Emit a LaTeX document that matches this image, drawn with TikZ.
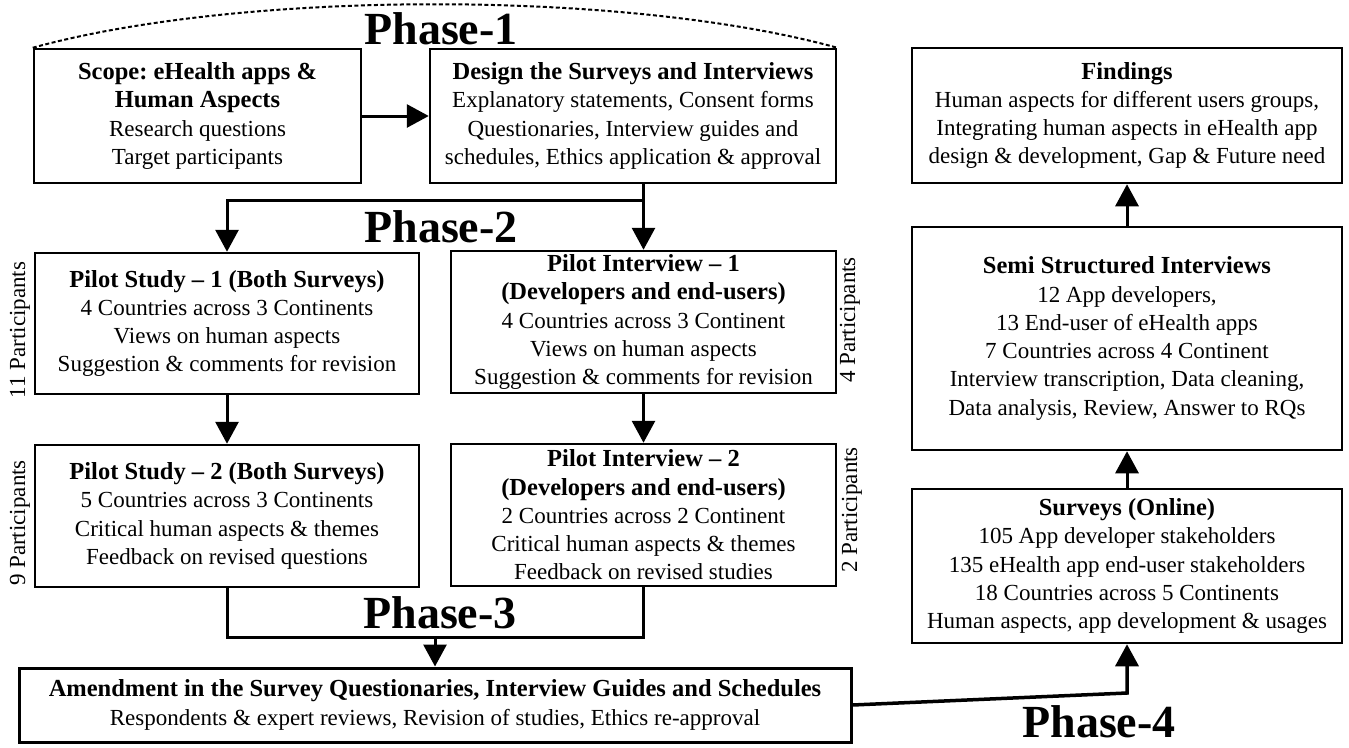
\documentclass[tikz,border=0pt]{standalone}
\usepackage{fontspec}
\setmainfont{Liberation Serif}
\usetikzlibrary{arrows.meta}
\newcommand\bxt[1]{{\fontsize{24.5}{28.3}\selectfont\bfseries #1}}
\frenchspacing
\begin{document}
\begin{tikzpicture}[x=1pt,y=-1pt,
  box/.style={draw, line width=2.5pt, align=center, inner sep=0pt,
    font=\fontsize{23}{28.3}\selectfont},
  arr/.style={line width=3pt, -{Triangle[length=22pt,width=23pt]}},
  conn/.style={line width=3pt},
  phase/.style={font=\fontsize{46}{50}\selectfont\bfseries, inner sep=0pt},
  plabel/.style={rotate=90, font=\fontsize{23}{28}\selectfont, inner sep=0pt}]
\useasboundingbox[fill=white] (0,0) rectangle (1349,747);

% Phase 1
\node[box, minimum width=327pt, minimum height=134pt] (scope) at (197.5,116)
  {\bxt{Scope: eHealth apps \&}\\\bxt{Human Aspects}\\Research questions\\Target participants};
\node[box, minimum width=406pt, minimum height=134pt] (design) at (633,116)
  {\bxt{Design the Surveys and Interviews}\\Explanatory statements, Consent forms\\Questionaries, Interview guides and\\schedules, Ethics application \& approval};
\node[phase] (ph1) at (441,29) {Phase-1};
\draw[line width=2pt, dash pattern=on 4pt off 2.5pt]
  (scope.north west) .. controls +(210,-58) and +(-210,-58) .. (design.north east);
\draw[arr] (scope) -- (design);

% Phase 2
\node[box, minimum width=384pt, minimum height=141pt] (ps1) at (227,323.5)
  {\bxt{Pilot Study -- 1 (Both Surveys)}\\4 Countries across 3 Continents\\Views on human aspects\\Suggestion \& comments for revision};
\node[box, minimum width=385pt, minimum height=142pt] (pi1) at (643.5,322)
  {\bxt{Pilot Interview -- 1}\\\bxt{(Developers and end-users)}\\4 Countries across 3 Continent\\Views on human aspects\\Suggestion \& comments for revision};
\node[box, minimum width=384pt, minimum height=142pt] (ps2) at (227,516)
  {\bxt{Pilot Study -- 2 (Both Surveys)}\\5 Countries across 3 Continents\\Critical human aspects \& themes\\Feedback on revised questions};
\node[box, minimum width=385pt, minimum height=142pt] (pi2) at (643.5,515)
  {\bxt{Pilot Interview -- 2}\\\bxt{(Developers and end-users)}\\2 Countries across 2 Continent\\Critical human aspects \& themes\\Feedback on revised studies};
\node[phase] (ph2) at (441,227) {Phase-2};
\node[plabel] (p11) at (20,330) {11 Participants};
\node[plabel] (p9) at (20,523) {9 Participants};
\node[plabel] (p4) at (850,320) {4 Participants};
\node[plabel] (p2) at (852,510) {2 Participants};

\coordinate (br) at (0,200);
\draw[arr] (pi1.north |- design.south) -- (pi1.north);
\draw[arr] (pi1.north |- br) -| (ps1.north);
\draw[arr] (ps1) -- (ps2);
\draw[arr] (pi1) -- (pi2);

% Phase 3
\node[box, line width=3pt, minimum width=832pt, minimum height=74pt] (amend) at (435,705)
  {\bxt{Amendment in the Survey Questionaries, Interview Guides and Schedules}\\Respondents \& expert reviews, Revision of studies, Ethics re-approval};
\node[phase] (ph3) at (440,613) {Phase-3};
\coordinate (mg) at (0,637);
\draw[conn] (ps2.south) |- (pi2.south |- mg) -- (pi2.south);
\draw[arr] (amend.north |- mg) -- (amend.north);

% Phase 4 (right column)
\node[box, minimum width=430pt, minimum height=135pt] (findings) at (1127,115.5)
  {\bxt{Findings}\\Human aspects for different users groups,\\Integrating human aspects in eHealth app\\design \& development, Gap \& Future need};
\node[box, minimum width=430pt, minimum height=223pt] (semi) at (1127,338.5)
  {\bxt{Semi Structured Interviews}\\12 App developers,\\13 End-user of eHealth apps\\7 Countries across 4 Continent\\Interview transcription, Data cleaning,\\Data analysis, Review, Answer to RQs};
\node[box, minimum width=430pt, minimum height=154pt] (surveys) at (1127,566)
  {\bxt{Surveys (Online)}\\105 App developer stakeholders\\135 eHealth app end-user stakeholders\\18 Countries across 5 Continents\\Human aspects, app development \& usages};
\node[phase] (ph4) at (1099,722) {Phase-4};
\draw[arr] (semi) -- (findings);
\draw[arr] (surveys) -- (semi);
\coordinate (bend) at (0,693);
\draw[arr, line width=3.5pt] (amend.east) -- (surveys.south |- bend) -- (surveys.south);
\end{tikzpicture}
\end{document}
